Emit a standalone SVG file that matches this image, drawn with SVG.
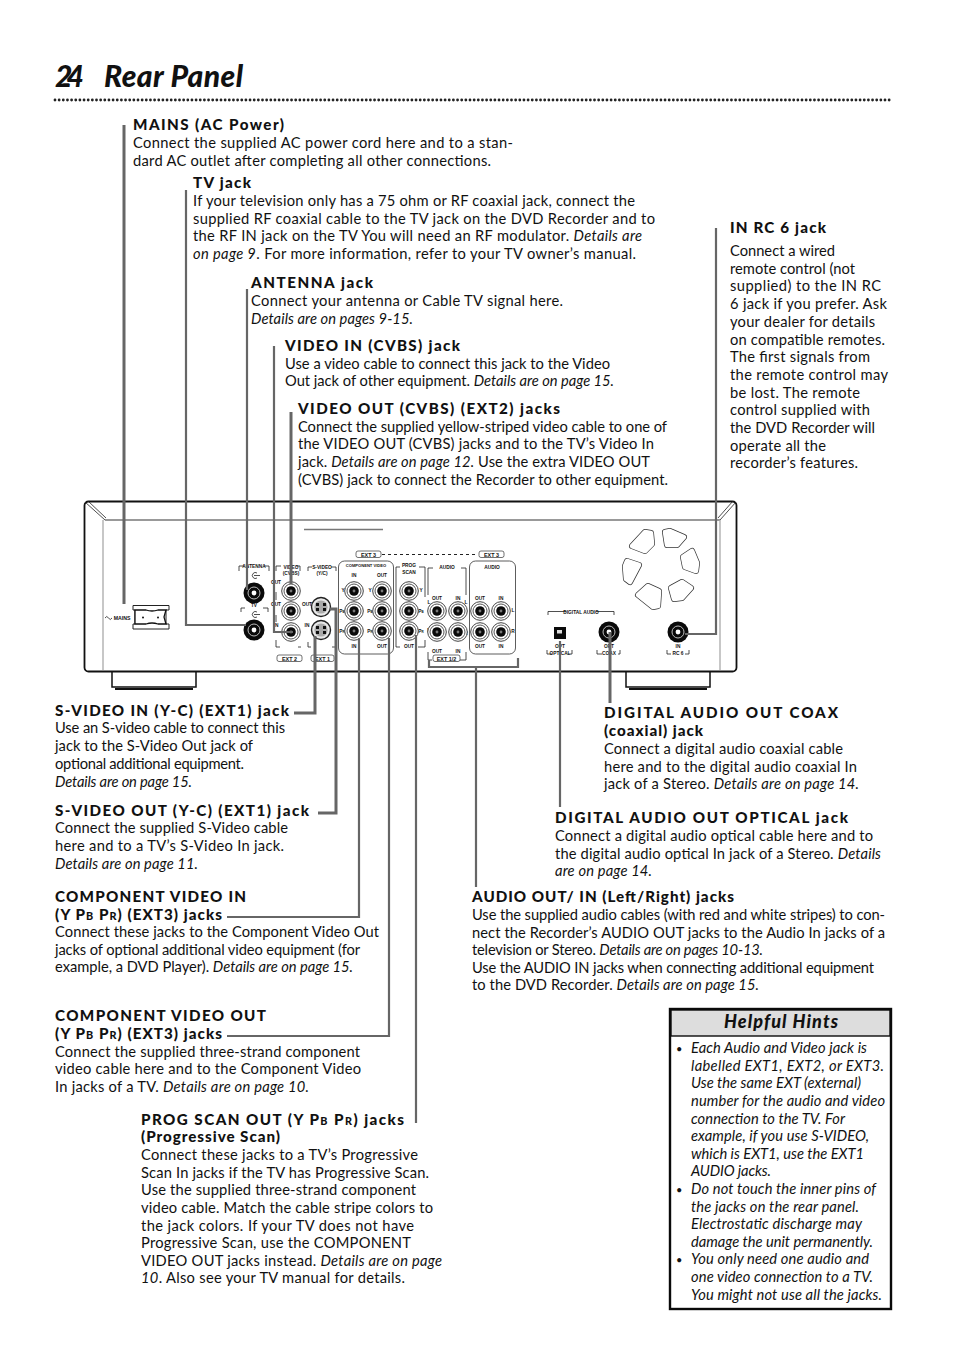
<svg xmlns="http://www.w3.org/2000/svg" width="954" height="1351" viewBox="0 0 954 1351">
<style>
text{font-family:"Lato","Liberation Sans",sans-serif;fill:#111}
.t{font-size:14.7px}
.b{font-size:15.2px;font-weight:900}
.i{font-style:italic}
.s{font-size:10.8px}
.h{font-size:14.7px;font-style:italic}
.l{font-family:"Liberation Sans",sans-serif;font-size:4.8px;font-weight:700;text-anchor:middle}
.x{font-size:5.4px}
.c{fill:none;stroke:#666;stroke-width:2.2}
.d{fill:none;stroke:#666;stroke-width:3}
.k{fill:none;stroke:#222;stroke-width:.8}
.e{fill:#fff;stroke:#333;stroke-width:.7}
.fo{stroke:#333;stroke-width:6;stroke-linejoin:round}
.fi{stroke:#fff;stroke-width:4.6;fill:#fff;stroke-linejoin:round}
</style>
<defs>
<g id="rca"><circle r="9.3" fill="#fff" stroke="#444" stroke-width="1"/><circle r="7" fill="none" stroke="#555" stroke-width="1"/><circle r="4.8" fill="#0a0a0a"/><circle r="1.4" fill="#777"/></g>
<g id="blk"><circle r="10.500" fill="#0a0a0a"/><circle r="6" fill="none" stroke="#bbb" stroke-width="1"/><circle r="2.400" fill="#fff"/></g>
<g id="sv"><circle r="9.500" fill="#e8e8e8" stroke="#222" stroke-width="1.400"/><circle r="6.600" fill="#aaa"/><rect x="-5" y="-4" width="3" height="3" fill="#111"/><rect x="2" y="-4" width="3" height="3" fill="#111"/><rect x="-5" y="1" width="3" height="3" fill="#111"/><rect x="2" y="1" width="3" height="3" fill="#111"/></g>
<g id="fanset">
<path d="M632 546L645 532L651 533L652 544L645 551Z"/>
<path d="M665 532L670 531L684 537L677 545L667 545Z"/>
<path d="M683 557L692 551L697 563L696 571L685 567Z"/>
<path d="M671 588L682 582L691 588L682 598L674 599Z"/>
<path d="M638 595L648 586L659 591L658 606L653 607Z"/>
<path d="M625 566L627 561L639 565L630 582L626 579Z"/>
</g>
</defs>
<rect width="954" height="1351" fill="#fff"/>

<g id="title">
<text x="55" y="87" style="font-size:30px;font-weight:900;font-style:italic" textLength="29">24</text>
<text x="104" y="87" style="font-size:30px;font-weight:900;font-style:italic" textLength="139">Rear Panel</text>
<line x1="55" y1="100" x2="893" y2="100" stroke="#222" stroke-width="2.800" stroke-dasharray="0 4.15" stroke-linecap="round"/>
</g>

<g id="recorder">
<rect x="84.500" y="501.500" width="652" height="170" rx="4" fill="#fff" stroke="#111" stroke-width="1.800"/>
<path d="M105 520H720" fill="none" stroke="#999" stroke-width="2"/>
<path d="M103 520V670M720 520V670" fill="none" stroke="#aaa" stroke-width="1.300"/>
<path class="k" d="M85 502L105 520M88 501L106 518M736 502L720 520M733 501L718 518"/>
<path fill="none" stroke="#111" stroke-width="1.500" d="M112 672V687H196V672M626 672V687H710V672"/>
<path fill="none" stroke="#111" stroke-width="2" d="M115 689H193M629 689H707"/>
<line x1="304" y1="529.500" x2="383" y2="529.500" stroke="#777" stroke-width="1.600"/>
<g id="fan">
<use href="#fanset" class="fo"/>
<use href="#fanset" class="fi"/>
</g>
<g id="mains-socket">
<path d="M133 605.500H169V610H166V624H169V629H133V624H135V610H133Z" fill="#fff" stroke="#222" stroke-width="1"/>
<path d="M135 610H146Q152 612 158 610H166L164 617L166 624H158Q152 622 146 624H135Z" fill="#fff" stroke="#111" stroke-width="1.300"/>
<circle cx="143" cy="617.500" r="1" fill="#111"/><circle cx="158" cy="617.500" r="1" fill="#111"/>
<text class="l" x="122" y="619.500" style="font-size:5.200px">MAINS</text>
<path class="k" d="M105 618q1.700 -3 3.500 0t3.500 0"/>
</g>
<g id="antenna-tv-jacks">
<path class="k" d="M239 571V566H244M264 566H269V571M241 612V608H245M263 608H268V612"/>
<text class="l" x="254" y="568">ANTENNA</text><text class="l" x="254" y="607">TV</text>
<use href="#blk" x="254" y="593"/><use href="#blk" x="254" y="630"/>
<path class="k" d="M257 573a3 3 0 1 0 0 5M254 575.500H260M257 612a3 3 0 1 0 0 5M254 614.500H260"/>
</g>
<g id="video-jacks">
<path class="k" d="M276 571V566H281M296 566H300V571M276 592V600M276 615V622M276 640V647H280M298 647H301"/>
<text class="l" x="291" y="568.500">VIDEO</text><text class="l" x="291" y="575">(CVBS)</text>
<text class="l" x="276" y="584">OUT</text><text class="l" x="276" y="606">OUT</text><text class="l" x="276" y="627">IN</text>
<use href="#rca" x="291" y="591"/><use href="#rca" x="291" y="611"/><use href="#rca" x="291" y="632"/>
<rect x="277" y="655" width="25" height="6.500" rx="2" class="e"/>
<text class="l x" x="289.500" y="660.500">EXT 2</text>
</g>
<g id="svideo-jacks">
<path class="k" d="M308 571V567H312M331 567H336V571M308 642V647H311M332 647H336V642"/>
<text class="l" x="322" y="568.500">S-VIDEO</text><text class="l" x="322" y="575">(Y/C)</text>
<text class="l" x="307" y="606">OUT</text><text class="l" x="307" y="627">IN</text>
<use href="#sv" x="321" y="607"/><use href="#sv" x="321" y="630"/>
<rect x="311" y="655" width="23" height="6.500" rx="2" class="e"/>
<text class="l x" x="322.500" y="660.500">EXT 1</text>
</g>
<g id="component-jacks">
<rect x="338.500" y="561" width="55" height="93" rx="6" fill="none" stroke="#333" stroke-width=".8"/>
<text class="l" x="366" y="567" style="font-size:4.100px">COMPONENT VIDEO</text>
<text class="l" x="354" y="577">IN</text><text class="l" x="382" y="577">OUT</text>
<text class="l" x="343" y="592">Y</text><text class="l" x="370" y="592">Y</text>
<text class="l" x="342" y="613">P<tspan style="font-size:3px">B</tspan></text><text class="l" x="370" y="613">P<tspan style="font-size:3px">B</tspan></text>
<text class="l" x="342" y="633">P<tspan style="font-size:3px">R</tspan></text><text class="l" x="370" y="633">P<tspan style="font-size:3px">R</tspan></text>
<text class="l" x="354" y="648">IN</text><text class="l" x="382" y="648">OUT</text>
<use href="#rca" x="354" y="591"/><use href="#rca" x="354" y="611"/><use href="#rca" x="354" y="631"/>
<use href="#rca" x="382" y="591"/><use href="#rca" x="382" y="611"/><use href="#rca" x="382" y="631"/>
</g>
<g id="ext3-labels">
<rect x="356" y="551" width="25" height="6.500" rx="2" class="e"/>
<text class="l x" x="368.500" y="556.500">EXT 3</text>
<rect x="479" y="551" width="25" height="6.500" rx="2" class="e"/>
<text class="l x" x="491.500" y="556.500">EXT 3</text>
<line x1="382" y1="554.500" x2="478" y2="554.500" stroke="#222" stroke-dasharray="3 3"/>
</g>
<g id="prog-jacks">
<path class="k" d="M396 647V567H400M419 567H425V597M396 647H400M418 647H425V640"/>
<text class="l" x="409" y="567">PROG</text><text class="l" x="409" y="574">SCAN</text><text class="l" x="409" y="648">OUT</text>
<text class="l" x="421" y="592">Y</text><text class="l" x="421" y="613">P<tspan style="font-size:3px">B</tspan></text><text class="l" x="421" y="633">P<tspan style="font-size:3px">R</tspan></text>
<use href="#rca" x="409" y="591"/><use href="#rca" x="409" y="611"/><use href="#rca" x="409" y="631"/>
</g>
<g id="audio-jacks">
<path class="k" d="M428 595V568H433M461 568H466V595M428 652V660H432M460 660H466V652"/>
<text class="l" x="447" y="569">AUDIO</text>
<text class="l" x="437" y="600">OUT</text><text class="l" x="458" y="600">IN</text>
<text class="l" x="429" y="604">L</text><text class="l" x="466" y="604">L</text><text class="l" x="429" y="632">R</text><text class="l" x="466" y="635">R</text>
<text class="l" x="437" y="653">OUT</text><text class="l" x="458" y="653">IN</text>
<use href="#rca" x="437" y="611"/><use href="#rca" x="458" y="611"/><use href="#rca" x="437" y="632"/><use href="#rca" x="458" y="632"/>
<rect x="433" y="655" width="27" height="6.500" rx="2" class="e"/>
<text class="l x" x="446.500" y="660.500">EXT 1/2</text>
<rect x="469.500" y="561" width="46" height="93" rx="6" fill="none" stroke="#333" stroke-width=".8"/>
<text class="l" x="492" y="569">AUDIO</text>
<text class="l" x="480" y="600">OUT</text><text class="l" x="501" y="600">IN</text>
<text class="l" x="513" y="612">L</text><text class="l" x="513" y="633">R</text>
<text class="l" x="480" y="648">OUT</text><text class="l" x="501" y="648">IN</text>
<use href="#rca" x="480" y="611"/><use href="#rca" x="501" y="611"/><use href="#rca" x="480" y="632"/><use href="#rca" x="501" y="632"/>
</g>
<g id="digital-audio">
<path class="k" d="M548 615V611.500H566M596 611.500H614V615"/>
<text class="l" x="581" y="613.500">DIGITAL AUDIO</text>
<rect x="554" y="627" width="12" height="12" fill="#0a0a0a"/><rect x="557" y="630" width="5" height="3.500" fill="#ddd"/>
<use href="#blk" x="609" y="632"/>
<path class="k" d="M547 650V654H552M568 654H572V650M597 650V654H602M618 654H620V650M667 650V654H671M685 654H689V650"/>
<text class="l" x="560" y="648">OPT</text><text class="l" x="560" y="655">OPTICAL</text>
<text class="l" x="609" y="648">OPT</text><text class="l" x="609" y="655">COAX</text>
<text class="l" x="678" y="648">IN</text><text class="l" x="678" y="655">RC 6</text>
<use href="#blk" x="678" y="632"/>
</g>
</g>

<g id="connectors">
<path class="d" d="M124 125V604"/>
<path class="c" d="M186 190V625H246"/>
<path class="c" d="M247 289V590"/>
<path class="c" d="M274 346V632H293"/>
<path class="d" d="M291 412V584"/>
<path class="d" d="M294 713H315V636"/>
<path class="d" d="M318 813H336V609H330"/>
<path class="c" d="M227 917H359V638"/>
<path class="c" d="M227 1036H389V638"/>
<path class="c" d="M416 1123V635"/>
<path class="c" d="M429 660V667H518V658M476 667V887"/>
<path class="c" d="M560 807V641"/>
<path class="d" d="M610 703V632"/>
<path class="c" d="M716 228V634H685"/>
</g>

<g id="mains-note">
<text class="b" x="133" y="130" textLength="151">MAINS (AC Power)</text>
<text class="t" x="133" y="148" textLength="380">Connect the supplied AC power cord here and to a stan-</text>
<text class="t" x="133" y="166" textLength="358">dard AC outlet after completing all other connections.</text>
</g>
<g id="tv-note">
<text class="b" x="193" y="188" textLength="58">TV jack</text>
<text class="t" x="193" y="206" textLength="442">If your television only has a 75 ohm or RF coaxial jack, connect the</text>
<text class="t" x="193" y="224" textLength="462">supplied RF coaxial cable to the TV jack on the DVD Recorder and to</text>
<text class="t" x="193" y="241" textLength="449">the RF IN jack on the TV You will need an RF modulator. <tspan class="i">Details are</tspan></text>
<text class="t" x="193" y="259" textLength="443"><tspan class="i">on page 9</tspan>. For more information, refer to your TV owner’s manual.</text>
</g>
<g id="antenna-note">
<text class="b" x="251" y="288" textLength="122">ANTENNA jack</text>
<text class="t" x="251" y="306" textLength="312">Connect your antenna or Cable TV signal here.</text>
<text class="t i" x="251" y="324" textLength="162">Details are on pages 9-15.</text>
</g>
<g id="video-in-note">
<text class="b" x="285" y="351" textLength="175">VIDEO IN (CVBS) jack</text>
<text class="t" x="285" y="369" textLength="325">Use a video cable to connect this jack to the Video</text>
<text class="t" x="285" y="386" textLength="329">Out jack of other equipment. <tspan class="i">Details are on page 15.</tspan></text>
</g>
<g id="video-out-note">
<text class="b" x="298" y="414" textLength="262">VIDEO OUT (CVBS) (EXT2) jacks</text>
<text class="t" x="298" y="432" textLength="369">Connect the supplied yellow-striped video cable to one of</text>
<text class="t" x="298" y="449" textLength="356">the VIDEO OUT (CVBS) jacks and to the TV’s Video In</text>
<text class="t" x="298" y="467" textLength="352">jack. <tspan class="i">Details are on page 12.</tspan> Use the extra VIDEO OUT</text>
<text class="t" x="298" y="485" textLength="370">(CVBS) jack to connect the Recorder to other equipment.</text>
</g>
<g id="rc6-note">
<text class="b" x="730" y="233" textLength="96">IN RC 6 jack</text>
<text class="t" x="730" y="256" textLength="105">Connect a wired</text>
<text class="t" x="730" y="274" textLength="125">remote control (not</text>
<text class="t" x="730" y="291" textLength="151">supplied) to the IN RC</text>
<text class="t" x="730" y="309" textLength="157">6 jack if you prefer. Ask</text>
<text class="t" x="730" y="327" textLength="145">your dealer for details</text>
<text class="t" x="730" y="345" textLength="155">on compatible remotes.</text>
<text class="t" x="730" y="362" textLength="140">The first signals from</text>
<text class="t" x="730" y="380" textLength="158">the remote control may</text>
<text class="t" x="730" y="398" textLength="130">be lost. The remote</text>
<text class="t" x="730" y="415" textLength="140">control supplied with</text>
<text class="t" x="730" y="433" textLength="145">the DVD Recorder will</text>
<text class="t" x="730" y="451" textLength="96">operate all the</text>
<text class="t" x="730" y="468" textLength="128">recorder’s features.</text>
</g>
<g id="svideo-in-note">
<text class="b" x="55" y="716" textLength="234">S-VIDEO IN (Y-C) (EXT1) jack</text>
<text class="t" x="55" y="733" textLength="230">Use an S-video cable to connect this</text>
<text class="t" x="55" y="751" textLength="198">jack to the S-Video Out jack of</text>
<text class="t" x="55" y="769" textLength="189">optional additional equipment.</text>
<text class="t i" x="55" y="787" textLength="137">Details are on page 15.</text>
</g>
<g id="svideo-out-note">
<text class="b" x="55" y="816" textLength="254">S-VIDEO OUT (Y-C) (EXT1) jack</text>
<text class="t" x="55" y="833" textLength="233">Connect the supplied S-Video cable</text>
<text class="t" x="55" y="851" textLength="229">here and to a TV’s S-Video In jack.</text>
<text class="t i" x="55" y="869" textLength="143">Details are on page 11.</text>
</g>
<g id="component-in-note">
<text class="b" x="55" y="902" textLength="191">COMPONENT VIDEO IN</text>
<text class="b" x="55" y="920" textLength="167">(Y P<tspan class="s">B</tspan> P<tspan class="s">R</tspan>) (EXT3) jacks</text>
<text class="t" x="55" y="937" textLength="324">Connect these jacks to the Component Video Out</text>
<text class="t" x="55" y="955" textLength="305">jacks of optional additional video equipment (for</text>
<text class="t" x="55" y="972" textLength="298">example, a DVD Player). <tspan class="i">Details are on page 15.</tspan></text>
</g>
<g id="component-out-note">
<text class="b" x="55" y="1021" textLength="211">COMPONENT VIDEO OUT</text>
<text class="b" x="55" y="1039" textLength="167">(Y P<tspan class="s">B</tspan> P<tspan class="s">R</tspan>) (EXT3) jacks</text>
<text class="t" x="55" y="1057" textLength="305">Connect the supplied three-strand component</text>
<text class="t" x="55" y="1074" textLength="306">video cable here and to the Component Video</text>
<text class="t" x="55" y="1092" textLength="254">In jacks of a TV. <tspan class="i">Details are on page 10.</tspan></text>
</g>
<g id="prog-note">
<text class="b" x="141" y="1125" textLength="263">PROG SCAN OUT (Y P<tspan class="s">B</tspan> P<tspan class="s">R</tspan>) jacks</text>
<text class="b" x="141" y="1142" textLength="139">(Progressive Scan)</text>
<text class="t" x="141" y="1160" textLength="277">Connect these jacks to a TV’s Progressive</text>
<text class="t" x="141" y="1178" textLength="288">Scan In jacks if the TV has Progressive Scan.</text>
<text class="t" x="141" y="1195" textLength="275">Use the supplied three-strand component</text>
<text class="t" x="141" y="1213" textLength="292">video cable. Match the cable stripe colors to</text>
<text class="t" x="141" y="1231" textLength="273">the jack colors. If your TV does not have</text>
<text class="t" x="141" y="1248" textLength="270">Progressive Scan, use the COMPONENT</text>
<text class="t" x="141" y="1266" textLength="301">VIDEO OUT jacks instead. <tspan class="i">Details are on page</tspan></text>
<text class="t" x="141" y="1283" textLength="264"><tspan class="i">10</tspan>. Also see your TV manual for details.</text>
</g>
<g id="coax-note">
<text class="b" x="604" y="718" textLength="234">DIGITAL AUDIO OUT COAX</text>
<text class="b" x="604" y="736" textLength="99">(coaxial) jack</text>
<text class="t" x="604" y="754" textLength="239">Connect a digital audio coaxial cable</text>
<text class="t" x="604" y="772" textLength="253">here and to the digital audio coaxial In</text>
<text class="t" x="604" y="789" textLength="255">jack of a Stereo. <tspan class="i">Details are on page 14.</tspan></text>
</g>
<g id="optical-note">
<text class="b" x="555" y="823" textLength="293">DIGITAL AUDIO OUT OPTICAL jack</text>
<text class="t" x="555" y="841" textLength="318">Connect a digital audio optical cable here and to</text>
<text class="t" x="555" y="859" textLength="326">the digital audio optical In jack of a Stereo. <tspan class="i">Details</tspan></text>
<text class="t i" x="555" y="876" textLength="97">are on page 14.</text>
</g>
<g id="audio-note">
<text class="b" x="472" y="902" textLength="262">AUDIO OUT/ IN (Left/Right) jacks</text>
<text class="t" x="472" y="920" textLength="413">Use the supplied audio cables (with red and white stripes) to con-</text>
<text class="t" x="472" y="938" textLength="413">nect the Recorder’s AUDIO OUT jacks to the Audio In jacks of a</text>
<text class="t" x="472" y="955" textLength="291">television or Stereo. <tspan class="i">Details are on pages 10-13.</tspan></text>
<text class="t" x="472" y="973" textLength="402">Use the AUDIO IN jacks when connecting additional equipment</text>
<text class="t" x="472" y="990" textLength="287">to the DVD Recorder.  <tspan class="i">Details are on page 15.</tspan></text>
</g>
<g id="helpful-hints">
<rect x="670" y="1009" width="221" height="300" fill="#fff" stroke="#0a0a0a" stroke-width="2.400"/>
<rect x="671" y="1010" width="219" height="26" fill="#ddd" stroke="#0a0a0a" stroke-width="1.400"/>
<text x="724" y="1028" style="font-size:18px;font-style:italic;font-weight:900" textLength="114">Helpful Hints</text>
<text x="676" y="1053" style="font-size:11px">•</text><text x="676" y="1194" style="font-size:11px">•</text><text x="676" y="1264" style="font-size:11px">•</text>
<text class="h" x="691" y="1053" textLength="176">Each Audio and Video jack is</text>
<text class="h" x="691" y="1071" textLength="193">labelled EXT1, EXT2, or EXT3.</text>
<text class="h" x="691" y="1088" textLength="170">Use the same EXT (external)</text>
<text class="h" x="691" y="1106" textLength="194">number for the audio and video</text>
<text class="h" x="691" y="1124" textLength="154">connection to the TV. For</text>
<text class="h" x="691" y="1141" textLength="178">example, if you use S-VIDEO,</text>
<text class="h" x="691" y="1159" textLength="173">which is EXT1, use the EXT1</text>
<text class="h" x="691" y="1176" textLength="80">AUDIO jacks.</text>
<text class="h" x="691" y="1194" textLength="185">Do not touch the inner pins of</text>
<text class="h" x="691" y="1212" textLength="168">the jacks on the rear panel.</text>
<text class="h" x="691" y="1229" textLength="171">Electrostatic discharge may</text>
<text class="h" x="691" y="1247" textLength="182">damage the unit permanently.</text>
<text class="h" x="691" y="1264" textLength="178">You only need one audio and</text>
<text class="h" x="691" y="1282" textLength="182">one video connection to a TV.</text>
<text class="h" x="691" y="1300" textLength="191">You might not use all the jacks.</text>
</g>
</svg>
